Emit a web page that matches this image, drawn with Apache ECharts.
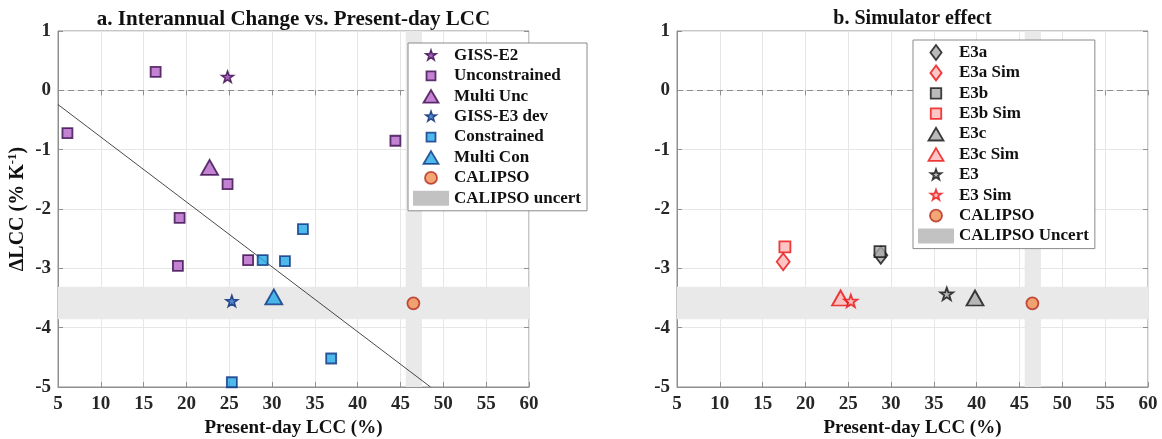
<!DOCTYPE html>
<html>
<head>
<meta charset="utf-8">
<script src="https://cdn.jsdelivr.net/npm/echarts@6/dist/echarts.min.js"></script>
<style>
  html, body { margin: 0; padding: 0; background: #fff; }
  #main { width: 1162px; height: 439px; }
</style>
</head>
<body>
<div id="main"></div>
<script>
// panel a: [Present-day LCC %, dLCC %/K]
var gissE2 = [[24.8, 0.23]];
var unconstrained = [[16.4, 0.31], [6.1, -0.72], [24.8, -1.58], [19.2, -2.15], [19.0, -2.96], [27.2, -2.86], [44.4, -0.85]];
var multiUnc = [[22.7, -1.3]];
var gissE3dev = [[25.3, -3.55]];
var constrained = [[33.6, -2.34], [28.9, -2.86], [31.5, -2.88], [36.9, -4.52], [25.3, -4.92]];
var multiCon = [[30.2, -3.48]];
var calipso = [[46.5, -3.59]];
// fitted line, read at its two ends
var fitLine = [[5, -0.24], [48.5, -5]];

// panel b
var e3a = [[28.8, -2.78]];
var e3aSim = [[17.4, -2.89]];
var e3b = [[28.7, -2.72]];
var e3bSim = [[17.6, -2.64]];
var e3c = [[39.8, -3.5]];
var e3cSim = [[24.1, -3.5]];
var e3 = [[36.5, -3.43]];
var e3Sim = [[25.3, -3.55]];

// CALIPSO uncertainty ranges
var uncertY = [-3.86, -3.31];
var uncertX = [45.6, 47.5];

var FONT = 'Liberation Serif';
var STAR = 'path://M0,-10L2.35,-3.24L9.51,-3.09L3.8,1.24L5.88,8.09L0,4L-5.88,8.09L-3.8,1.24L-9.51,-3.09L-2.35,-3.24Z';

// legend icons: the first two moves pad the box so the glyphs come out smaller
var PAD = 'path://M-10,-10M10,10';
var icStar = PAD + 'M0,-7.5L1.76,-2.43L7.13,-2.32L2.85,0.93L4.41,6.07L0,3L-4.41,6.07L-2.85,0.93L-7.13,-2.32L-1.76,-2.43Z';
var icSquare = PAD + 'M-6,-6L6,-6L6,6L-6,6Z';
var icSquareB = PAD + 'M-7,-7L7,-7L7,7L-7,7Z';
var icTri = PAD + 'M0,-8.5L10,8.5L-10,8.5Z';
var icCircle = PAD + 'M-8,0A8,8,0,1,0,8,0A8,8,0,1,0,-8,0Z';
var icDiamond = PAD + 'M0,-10L7.5,0L0,10L-7.5,0Z';

var purple = {color: '#b563c8', borderColor: '#3a0a4d', borderWidth: 1.8};
var purpleStar = {color: '#8e3aa6', borderColor: '#3a0a4d', borderWidth: 1.5};
var blueStar = {color: '#2a6fc8', borderColor: '#0a2a70', borderWidth: 1.5};
var blue = {color: '#22a8e6', borderColor: '#0c3282', borderWidth: 1.8};
var orange = {color: '#f09050', borderColor: '#b4281a', borderWidth: 1.8};
var grey = {color: '#a9a9a9', borderColor: '#111', borderWidth: 1.8};
var pink = {color: '#ffb6b6', borderColor: '#e81010', borderWidth: 1.8};
var uncertStyle = {color: '#b3b3b3', borderWidth: 0};

var tickStyle = {show: true, inside: true, length: 5, lineStyle: {color: '#8f8f8f'}};

function xAxisOf(idx) {
    return {
        gridIndex: idx, type: 'value', min: 5, max: 60, interval: 5,
        name: 'Present-day LCC (%)', nameLocation: 'middle', nameGap: 30,
        nameTextStyle: {fontFamily: FONT, fontWeight: 'bold', fontSize: 19, color: '#111'},
        axisLine: {show: true, onZero: false, lineStyle: {color: '#8f8f8f'}},
        axisTick: tickStyle,
        axisLabel: {fontFamily: FONT, fontWeight: 'bold', fontSize: 19, color: '#262626', margin: 8},
        splitLine: {show: true, lineStyle: {color: '#e6e6e6'}}
    };
}
function yAxisOf(idx) {
    var ax = {
        gridIndex: idx, type: 'value', min: -5, max: 1, interval: 1,
        axisLine: {show: true, onZero: false, lineStyle: {color: '#8f8f8f'}},
        axisTick: tickStyle,
        axisLabel: {fontFamily: FONT, fontWeight: 'bold', fontSize: 19, color: '#262626', margin: 7},
        splitLine: {show: true, lineStyle: {color: '#e6e6e6'}}
    };
    if (idx === 0) {
        ax.name = '{a|\u0394LCC (% K}{s|-1}{a|)}';
        ax.nameLocation = 'middle';
        ax.nameGap = 29;
        ax.nameTextStyle = {
            rich: {
                a: {fontFamily: FONT, fontWeight: 'bold', fontSize: 20, color: '#111'},
                s: {fontFamily: FONT, fontWeight: 'bold', fontSize: 13, color: '#111', padding: [0, 0, 10, 0]}
            }
        };
    }
    return ax;
}
// tick marks on the top and right edges of the box
function mirrorX(idx) {
    return {gridIndex: idx, type: 'value', position: 'top', min: 5, max: 60, interval: 5,
        axisLine: {show: false}, axisTick: tickStyle, axisLabel: {show: false}, splitLine: {show: false}};
}
function mirrorY(idx) {
    return {gridIndex: idx, type: 'value', position: 'right', min: -5, max: 1, interval: 1,
        axisLine: {show: false}, axisTick: tickStyle, axisLabel: {show: false}, splitLine: {show: false}};
}
function pts(name, idx, data, symbol, size, style) {
    return {
        name: name, type: 'scatter', xAxisIndex: idx, yAxisIndex: idx,
        data: data, symbol: symbol, symbolSize: size, symbolKeepAspect: true,
        itemStyle: style, silent: true, z: 3
    };
}
// the bands and the zero line sit on the CALIPSO series of each panel
function calipsoSeries(idx) {
    var s = pts('CALIPSO', idx, calipso, 'circle', 12, orange);
    s.markArea = {
        silent: true,
        itemStyle: {color: '#e9e9e9'},
        data: [
            [{yAxis: uncertY[0]}, {yAxis: uncertY[1]}],
            [{xAxis: uncertX[0]}, {xAxis: uncertX[1]}]
        ]
    };
    s.markLine = {
        silent: true, symbol: ['none', 'none'], label: {show: false},
        lineStyle: {type: [6, 4], color: '#8c8c8c', width: 1},
        data: [{yAxis: 0}]
    };
    return s;
}
function legendOf(left, top, items) {
    return {
        orient: 'vertical', left: left, top: top, z: 20,
        padding: [4, 6, 4, 5], itemGap: 3.4, itemWidth: 36, itemHeight: 15,
        symbolKeepAspect: true, selectedMode: false,
        backgroundColor: '#fff', borderColor: '#8a8a8a', borderWidth: 1,
        textStyle: {fontFamily: FONT, fontWeight: 'bold', fontSize: 17, color: '#111'},
        data: items
    };
}

var chart = echarts.init(document.getElementById('main'));
var option = {
    animation: false,
    backgroundColor: '#fff',
    title: [
        {text: 'a. Interannual Change vs. Present-day LCC', left: 293.5, top: 9, textAlign: 'center', padding: 0,
            textStyle: {fontFamily: FONT, fontWeight: 'bold', fontSize: 21, color: '#111'}},
        {text: 'b. Simulator effect', left: 912.5, top: 9, textAlign: 'center', padding: 0,
            textStyle: {fontFamily: FONT, fontWeight: 'bold', fontSize: 20, color: '#111'}}
    ],
    grid: [
        {left: 58, top: 31, width: 471, height: 356, outerBoundsMode: 'none', containLabel: false,
            show: true, borderColor: '#8f8f8f', borderWidth: 1},
        {left: 677, top: 31, width: 471, height: 356, outerBoundsMode: 'none', containLabel: false,
            show: true, borderColor: '#8f8f8f', borderWidth: 1}
    ],
    xAxis: [xAxisOf(0), xAxisOf(1), mirrorX(0), mirrorX(1)],
    yAxis: [yAxisOf(0), yAxisOf(1), mirrorY(0), mirrorY(1)],
    legend: [
        legendOf(408, 43, [
            {name: 'GISS-E2', icon: icStar, itemStyle: purpleStar},
            {name: 'Unconstrained', icon: icSquare, itemStyle: purple},
            {name: 'Multi Unc', icon: icTri, itemStyle: purple},
            {name: 'GISS-E3 dev', icon: icStar, itemStyle: blueStar},
            {name: 'Constrained', icon: icSquare, itemStyle: blue},
            {name: 'Multi Con', icon: icTri, itemStyle: blue},
            {name: 'CALIPSO', icon: icCircle, itemStyle: orange},
            {name: 'CALIPSO uncert', icon: 'rect', itemStyle: uncertStyle}
        ]),
        legendOf(913, 40, [
            {name: 'E3a', icon: icDiamond, itemStyle: grey},
            {name: 'E3a Sim', icon: icDiamond, itemStyle: pink},
            {name: 'E3b', icon: icSquareB, itemStyle: grey},
            {name: 'E3b Sim', icon: icSquareB, itemStyle: pink},
            {name: 'E3c', icon: icTri, itemStyle: grey},
            {name: 'E3c Sim', icon: icTri, itemStyle: pink},
            {name: 'E3', icon: icStar, itemStyle: grey},
            {name: 'E3 Sim', icon: icStar, itemStyle: pink},
            {name: 'CALIPSO', icon: icCircle, itemStyle: orange},
            {name: 'CALIPSO Uncert', icon: 'rect', itemStyle: uncertStyle}
        ])
    ],
    series: [
        {
            type: 'line', xAxisIndex: 0, yAxisIndex: 0, data: fitLine,
            showSymbol: false, silent: true, clip: true, z: 2,
            lineStyle: {color: '#1a1a1a', width: 0.8}
        },
        calipsoSeries(0),
        {name: 'CALIPSO uncert', type: 'scatter', xAxisIndex: 0, yAxisIndex: 0, data: [], itemStyle: uncertStyle},
        pts('Unconstrained', 0, unconstrained, 'rect', 10, purple),
        pts('GISS-E2', 0, gissE2, STAR, 12, purpleStar),
        pts('Multi Unc', 0, multiUnc, 'triangle', [17, 15], purple),
        pts('Constrained', 0, constrained, 'rect', 10, blue),
        pts('GISS-E3 dev', 0, gissE3dev, STAR, 12, blueStar),
        pts('Multi Con', 0, multiCon, 'triangle', [17, 15], blue),

        calipsoSeries(1),
        {name: 'CALIPSO Uncert', type: 'scatter', xAxisIndex: 1, yAxisIndex: 1, data: [], itemStyle: uncertStyle},
        pts('E3a', 1, e3a, 'diamond', [13, 17], grey),
        pts('E3a Sim', 1, e3aSim, 'diamond', [13, 17], pink),
        pts('E3b', 1, e3b, 'rect', 11, grey),
        pts('E3b Sim', 1, e3bSim, 'rect', 11, pink),
        pts('E3c', 1, e3c, 'triangle', [17, 15], grey),
        pts('E3c Sim', 1, e3cSim, 'triangle', [17, 15], pink),
        pts('E3', 1, e3, STAR, 13, grey),
        pts('E3 Sim', 1, e3Sim, STAR, 13, pink)
    ]
};
chart.setOption(option);
</script>
</body>
</html>
